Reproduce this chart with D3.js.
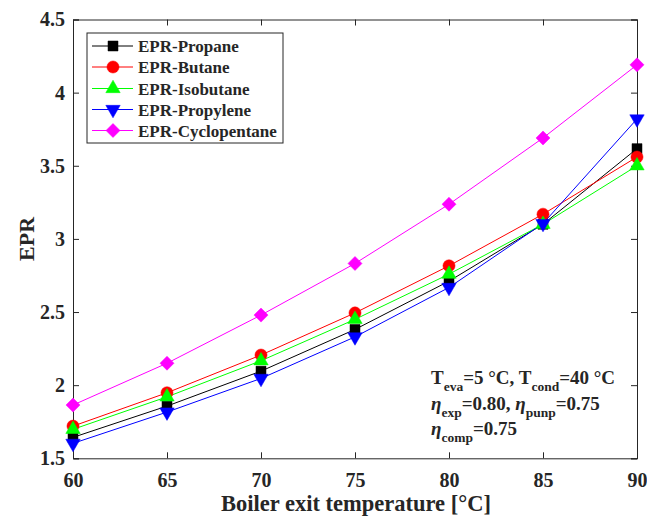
<!DOCTYPE html>
<html><head><meta charset="utf-8">
<script src="https://cdn.jsdelivr.net/npm/d3@7"></script>
<style>body{margin:0;background:#fff}svg{display:block}text{font-family:"Liberation Serif","Times New Roman",serif;font-weight:bold;fill:#262626}</style>
</head><body><svg id="c" width="647" height="516"></svg>
<script>
const temps = [60, 65, 70, 75, 80, 85, 90];
const propane = [1.643, 1.857, 2.096, 2.381, 2.711, 3.10, 3.617];
const butane = [1.72, 1.948, 2.206, 2.494, 2.816, 3.169, 3.56];
const isobutane = [1.698, 1.92, 2.167, 2.45, 2.759, 3.10, 3.50];
const propylene = [1.602, 1.816, 2.046, 2.33, 2.668, 3.105, 3.82];
const cyclopentane = [1.864, 2.15, 2.479, 2.832, 3.237, 3.69, 4.19];
const seriesNames = ["EPR-Propane", "EPR-Butane", "EPR-Isobutane", "EPR-Propylene", "EPR-Cyclopentane"];
const xTicks = [60, 65, 70, 75, 80, 85, 90];
const yTicks = [1.5, 2, 2.5, 3, 3.5, 4, 4.5];

const series = [
  {name: seriesNames[0], values: propane, color: "#000000", sym: "square"},
  {name: seriesNames[1], values: butane, color: "#ff0000", sym: "circle"},
  {name: seriesNames[2], values: isobutane, color: "#00ff00", sym: "tri"},
  {name: seriesNames[3], values: propylene, color: "#0000ff", sym: "tridown"},
  {name: seriesNames[4], values: cyclopentane, color: "#ff00ff", sym: "diamond"}
];

const svg = d3.select("#c");
const L = 73, R = 637, T = 19.5, B = 458.3;
const x = d3.scaleLinear().domain([60, 90]).range([L, R]);
const y = d3.scaleLinear().domain([1.5, 4.5]).range([B, T]);

function symPath(s) {
  if (s === "square") return {d: d3.symbol(d3.symbolSquare, 100)(), rot: 0};
  if (s === "circle") return {d: d3.symbol(d3.symbolCircle, 115)(), rot: 0};
  if (s === "tri") return {d: d3.symbol(d3.symbolTriangle, 90)(), rot: 0};
  if (s === "tridown") return {d: d3.symbol(d3.symbolTriangle, 90)(), rot: 180};
  return {d: d3.symbol(d3.symbolSquare, 98)(), rot: 45};
}

// axes box
const gx = svg.append("g").attr("transform", `translate(0,${B})`)
  .call(d3.axisBottom(x).tickValues(xTicks).tickSize(-6).tickPadding(15).tickFormat(d3.format("d")));
const gxt = svg.append("g").attr("transform", `translate(0,${T})`)
  .call(d3.axisTop(x).tickValues(xTicks).tickSize(-6).tickFormat(""));
const gy = svg.append("g").attr("transform", `translate(${L},0)`)
  .call(d3.axisLeft(y).tickValues(yTicks).tickSize(-6).tickPadding(8).tickFormat(d => d));
const gyr = svg.append("g").attr("transform", `translate(${R},0)`)
  .call(d3.axisRight(y).tickValues(yTicks).tickSize(-6).tickFormat(""));
[gx, gxt, gy, gyr].forEach(g => {
  g.selectAll("path.domain").attr("stroke", "#262626").attr("stroke-width", 1);
  g.selectAll("line").attr("stroke", "#262626").attr("stroke-width", 1);
  g.selectAll("text").style("font-size", "20px").style("font-family", '"Liberation Serif",serif').style("font-weight", "bold").attr("fill", "#262626");
});

// lines and markers
const line = d3.line().x((d, i) => x(temps[i])).y(d => y(d));
series.forEach(s => {
  svg.append("path").attr("d", line(s.values)).attr("fill", "none").attr("stroke", s.color).attr("stroke-width", 1);
});
series.forEach(s => {
  const sp = symPath(s.sym);
  svg.append("g").selectAll("path").data(s.values).join("path")
    .attr("d", sp.d)
    .attr("transform", (d, i) => `translate(${x(temps[i])},${y(d)}) rotate(${sp.rot})`)
    .attr("fill", s.color).attr("stroke", s.color).attr("stroke-width", 0.5);
});

// axis titles
svg.append("text").attr("x", (L + R) / 2 + 1).attr("y", 511).attr("text-anchor", "middle")
  .style("font-size", "22.5px").text("Boiler exit temperature [°C]");
svg.append("text").attr("transform", `translate(34,${(T + B) / 2}) rotate(-90)`).attr("text-anchor", "middle")
  .style("font-size", "22px").text("EPR");

// legend
const lg = svg.append("g");
lg.append("rect").attr("x", 87).attr("y", 33).attr("width", 196).attr("height", 110)
  .attr("fill", "#fff").attr("stroke", "#262626").attr("stroke-width", 1);
const rowsY = [46, 67, 88.5, 109.5, 130.5];
series.forEach((s, i) => {
  const ry = rowsY[i];
  lg.append("line").attr("x1", 92).attr("x2", 133).attr("y1", ry).attr("y2", ry).attr("stroke", s.color).attr("stroke-width", 1);
  const sp = symPath(s.sym);
  lg.append("path").attr("d", sp.d).attr("transform", `translate(113,${ry}) rotate(${sp.rot})`).attr("fill", s.color).attr("stroke", s.color).attr("stroke-width", 0.5);
  lg.append("text").attr("x", 138).attr("y", ry + 6).style("font-size", "17px").text(s.name);
});

// annotation
const ann = svg.append("g").style("font-size", "19px");
const sub = "13.5px";
const a1 = ann.append("text").attr("x", 431).attr("y", 384);
a1.append("tspan").text("T");
a1.append("tspan").attr("dy", 7).style("font-size", sub).text("eva");
a1.append("tspan").attr("dy", -7).text("=5 °C, T");
a1.append("tspan").attr("dy", 7).style("font-size", sub).text("cond");
a1.append("tspan").attr("dy", -7).text("=40 °C");
const a2 = ann.append("text").attr("x", 431).attr("y", 410);
a2.append("tspan").style("font-style", "italic").text("η");
a2.append("tspan").attr("dy", 7).style("font-size", sub).text("exp");
a2.append("tspan").attr("dy", -7).text("=0.80, ");
a2.append("tspan").style("font-style", "italic").text("η");
a2.append("tspan").attr("dy", 7).style("font-size", sub).text("punp");
a2.append("tspan").attr("dy", -7).text("=0.75");
const a3 = ann.append("text").attr("x", 431).attr("y", 435);
a3.append("tspan").style("font-style", "italic").text("η");
a3.append("tspan").attr("dy", 7).style("font-size", sub).text("comp");
a3.append("tspan").attr("dy", -7).text("=0.75");
</script></body></html>
